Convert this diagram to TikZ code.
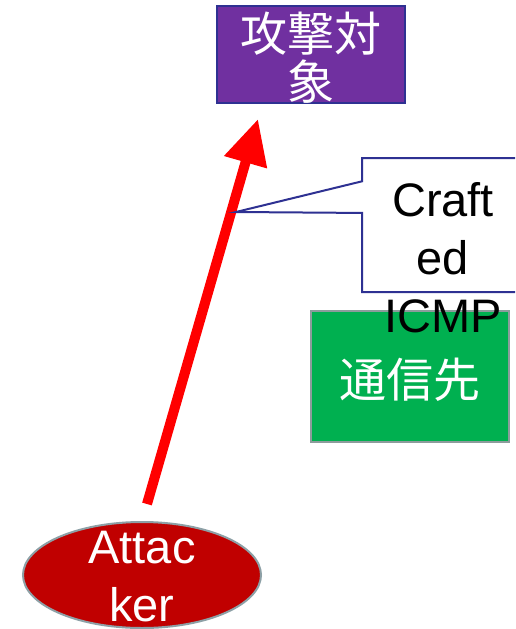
\documentclass[tikz,border=0pt]{standalone}
\usepackage{fontspec}
\setmainfont{Liberation Sans}
\newfontfamily\cjk{Noto Sans CJK JP}
\usetikzlibrary{shapes.geometric,arrows.meta,calc}
\definecolor{tgtpurple}{HTML}{7030A0}
\definecolor{navyline}{HTML}{2E3192}
\definecolor{okgreen}{HTML}{00B050}
\definecolor{grayline}{HTML}{8D9C9C}
\definecolor{attred}{HTML}{C00000}
\definecolor{ellline}{HTML}{8DA0A6}
\tikzset{
  boxshape/.style={rectangle, inner sep=0pt, line width=2pt},
  cjktext/.style={text=white, font=\cjk\fontsize{47}{48}\selectfont, align=center, inner sep=0pt},
  lattext/.style={font=\fontsize{47}{58}\selectfont, align=center, inner sep=0pt},
  attackarrow/.style={draw=red, line width=10pt, -{Triangle[length=45pt,width=42pt]}},
}
\begin{document}
\begin{tikzpicture}[x=1pt,y=-1pt]
\clip (0,0) rectangle (515,629);
\fill[white] (0,0) rectangle (515,629);
% target
\node[boxshape, fill=tgtpurple, draw=navyline, minimum width=188pt, minimum height=97pt] (tgt) at (311,54.5) {};
\node[cjktext] (tgtt) at (311,58) {攻撃対\\象};
% green destination
\node[boxshape, fill=okgreen, draw=grayline, minimum width=198pt, minimum height=131pt] (dst) at (410,376.5) {};
\node[cjktext] (dstt) at (410,380) {通信先};
% attacker
\node[ellipse, fill=attred, draw=ellline, line width=2pt, minimum width=238pt, minimum height=106pt, inner sep=0pt] (att) at (142,575) {};
\node[lattext, text=white] (attt) at (142,577) {Attac\\ker};
% arrow
\coordinate (as) at ([shift={(5,-17)}]att.north);
\coordinate (ae) at ([shift={(-53,15)}]tgt.south);
\draw[attackarrow] (as) -- (ae);
% callout
\node[boxshape, minimum width=160pt, minimum height=132pt] (cb) at (443,225) {};
\coordinate (tip) at (236,212);
\fill[white] (cb.north west) -- (cb.north east) -- (cb.south east) -- (cb.south west)
  -- ($(cb.north west)!0.41!(cb.south west)$) -- (tip) -- ($(cb.north west)!0.174!(cb.south west)$) -- cycle;
\draw[navyline, line width=2pt, line join=miter] ($(cb.north west)!0.174!(cb.south west)$) -- (cb.north west) -- (cb.north east) -- (cb.south east) -- (cb.south west)
  -- ($(cb.north west)!0.41!(cb.south west)$) -- (tip) -- cycle;
\node[lattext, text=black] (cbt) at (443,258) {Craft\\ed\\ICMP};
\end{tikzpicture}
\end{document}
